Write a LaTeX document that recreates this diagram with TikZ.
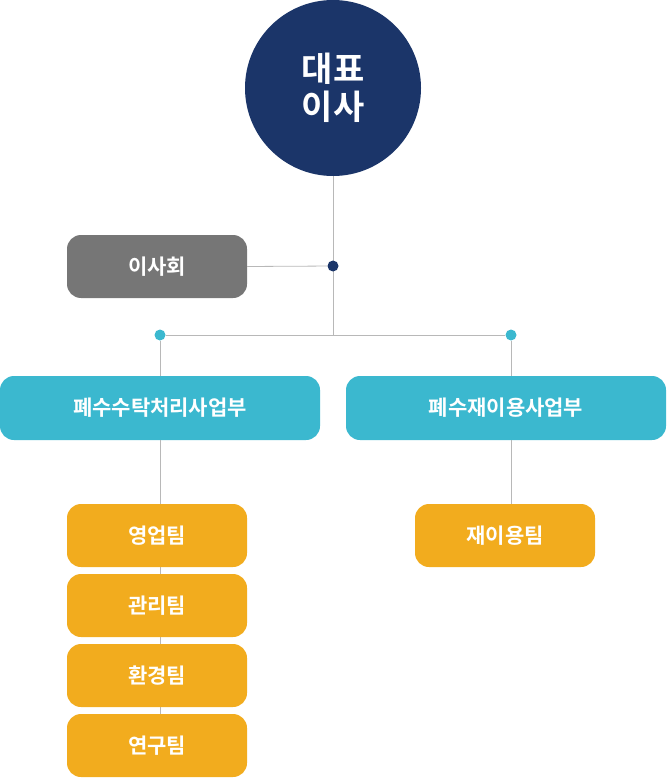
\documentclass[tikz,border=0pt]{standalone}
\usepackage{fontspec}
\newfontfamily\kr{Noto Sans CJK KR Bold}
\definecolor{navy}{HTML}{1B3569}
\definecolor{teal}{HTML}{3BB8CF}
\definecolor{orng}{HTML}{F2AC1E}
\definecolor{gry}{HTML}{767676}
\definecolor{ln}{HTML}{B8B8B8}
\begin{document}
\begin{tikzpicture}[x=1pt,y=-1pt,
 box/.style={rounded corners=14pt,minimum height=63pt,text=white,font=\kr\fontsize{21}{24}\selectfont,inner sep=0pt},
 conn/.style={draw=ln,line width=0.8pt},
 dot/.style={circle,inner sep=0pt,minimum size=11pt}]
\useasboundingbox (0,0) rectangle (666,778);
\coordinate (top) at (333,176);
\coordinate (bar) at (333,335);
\draw[conn] (top) -- (bar);
\node[dot,fill=navy] (d0) at (333,266) {};
\node[box,fill=gry,minimum width=180pt] (isa) at (157,266.5) {이사회};
\draw[conn] (isa.east) -- (d0);
\node[dot,fill=teal] (d1) at (160,335) {};
\node[dot,fill=teal] (d2) at (511,335) {};
\draw[conn] (d1) -- (d2);
\node[box,fill=teal,minimum width=320pt,minimum height=64pt] (b1) at (160,408) {폐수수탁처리사업부};
\node[box,fill=teal,minimum width=320pt,minimum height=64pt] (b2) at (506,408) {폐수재이용사업부};
\draw[conn] (d1) -- (b1.north -| d1);
\draw[conn] (d2) -- (b2.north -| d2);
\coordinate (bot) at (160,745);
\draw[conn] (b1.south) -- (bot);
\node[box,fill=orng,minimum width=180pt] (o1) at (157,535.5) {영업팀};
\node[box,fill=orng,minimum width=180pt] (o2) at (157,605.5) {관리팀};
\node[box,fill=orng,minimum width=180pt] (o3) at (157,675.5) {환경팀};
\node[box,fill=orng,minimum width=180pt] (o4) at (157,745.5) {연구팀};
\node[box,fill=orng,minimum width=180pt] (o5) at (505,535.5) {재이용팀};
\draw[conn] (b2.south -| d2) -- (o5.north -| d2);
\node[circle,fill=navy,minimum size=176pt,inner sep=0pt,text=white,align=center,font=\kr\fontsize{34}{38}\selectfont] (ceo) at (333,88) {대표\\이사};
\end{tikzpicture}
\end{document}
